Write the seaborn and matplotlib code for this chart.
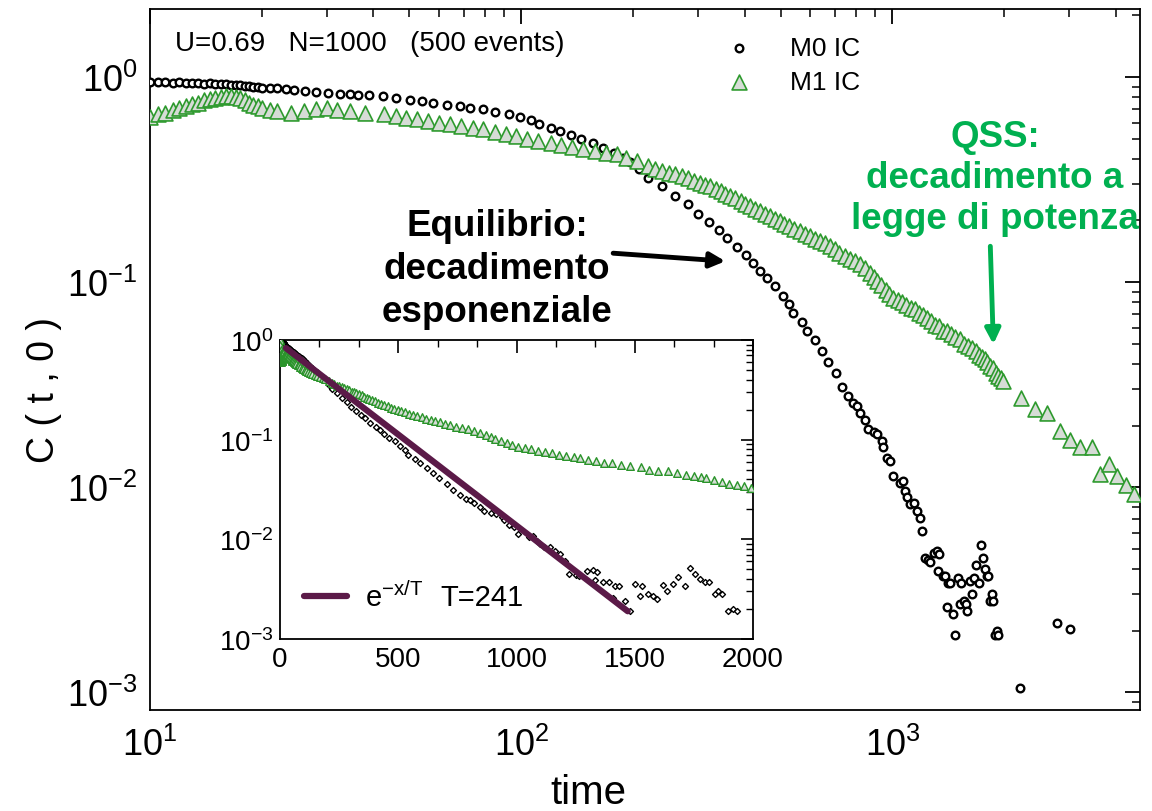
import matplotlib
matplotlib.use("Agg")
import matplotlib.pyplot as plt
import seaborn as sns
import pandas as pd
from matplotlib.ticker import LogLocator, NullFormatter, AutoMinorLocator, FixedLocator

# M0 IC (equilibrium initial condition)
m0_t = [0, 1, 2, 3, 4, 5, 6, 7, 8, 9,
        10.0, 10.5, 11.0, 11.5, 12.0, 12.5, 13.0, 13.5, 14.0, 14.5, 15.0, 15.5, 16.0,
        16.5, 17.0, 17.5, 18.0, 18.5, 19.0, 19.5, 20.0,
        21, 22, 23.2, 24.5, 26.2, 28, 30.2, 32.5, 34.5, 36.4, 39, 42.5, 46, 50.2, 54,
        58, 63, 68.4, 73, 78.9, 85, 93, 99, 106, 112, 120, 127, 136, 145, 156, 166,
        178, 188, 197, 208, 220, 240, 260, 282, 300, 321, 342, 359, 382, 404, 422,
        441, 460, 484, 508, 528, 541, 572, 590, 620, 648, 672, 706, 733, 761, 785,
        805, 820, 846, 862, 890, 911, 940, 946, 969, 988,
        1006, 1051, 1071, 1085, 1098, 1118, 1142, 1163, 1184, 1205, 1222, 1250, 1266,
        1298, 1322, 1340, 1330, 1366, 1390, 1416, 1433, 1407, 1459, 1480, 1501, 1522,
        1531, 1556, 1577, 1594, 1619, 1636, 1662, 1683, 1713, 1734, 1755, 1776, 1797,
        1814, 1839, 1852, 1869, 1894, 1915, 1932, 2213, 2784, 3018]
m0_c = [1.0, 0.99, 0.98, 0.98, 0.97, 0.97, 0.96, 0.96, 0.96, 0.95,
        0.95, 0.95, 0.95, 0.94, 0.95, 0.94, 0.94, 0.94, 0.93, 0.94, 0.93, 0.93, 0.93,
        0.92, 0.92, 0.92, 0.91, 0.91, 0.90, 0.90, 0.89,
        0.89, 0.887, 0.875, 0.865, 0.855, 0.845, 0.838, 0.83, 0.826, 0.823, 0.815,
        0.808, 0.79, 0.778, 0.765, 0.750, 0.735, 0.722, 0.71, 0.696, 0.678, 0.658,
        0.64, 0.615, 0.59, 0.562, 0.545, 0.525, 0.50, 0.476, 0.45, 0.425, 0.405,
        0.385, 0.355, 0.322, 0.294, 0.263, 0.240, 0.215, 0.196, 0.179, 0.164, 0.148,
        0.135, 0.124, 0.114, 0.105, 0.096, 0.086, 0.078, 0.071, 0.064, 0.058, 0.052,
        0.046, 0.041, 0.036, 0.031, 0.028, 0.0257, 0.0248, 0.023, 0.0212, 0.0192,
        0.0185, 0.0181, 0.0168, 0.0158, 0.0139, 0.0134,
        0.0113, 0.0105, 0.0107, 0.0096, 0.0090, 0.0083, 0.0084, 0.0077, 0.0071,
        0.0061, 0.0045, 0.0044, 0.0043, 0.0048, 0.0049, 0.0047, 0.0039, 0.0037,
        0.0037, 0.0034, 0.0034, 0.0026, 0.0024, 0.0019, 0.0036, 0.0027, 0.0034,
        0.0028, 0.0027, 0.0025, 0.0035, 0.0030, 0.0036, 0.0042, 0.0034, 0.0052,
        0.0045, 0.0040, 0.0037, 0.0037, 0.0028, 0.0030, 0.0028, 0.0019, 0.0020,
        0.0019, 0.00105, 0.00217, 0.00203]

# M1 IC (QSS initial condition)
m1_t = [0, 1, 2, 3, 4, 5, 6, 7, 8, 9,
        10.0, 10.5, 11.0, 11.5, 12.0, 12.5, 13.0, 13.5, 14.0, 14.5, 15.0, 15.5, 16.0,
        16.5, 17.0, 17.5, 18.0, 18.5, 19.0, 19.5, 20.0,
        21, 22, 24, 26, 28, 30, 32, 34.6, 38, 42.6, 46, 49, 52.4, 56, 60, 64.4, 69,
        74, 79, 85, 91, 97, 104, 111, 120, 128, 137, 147, 158, 169, 181, 192, 205,
        220, 230, 240, 250, 260, 271, 282, 292, 303, 313, 323, 334, 345, 355, 366,
        378, 390, 402, 414, 427, 440, 455, 469, 483, 497, 512, 528, 545, 563, 581,
        600, 618, 637, 657, 678, 699, 720, 745, 770, 795, 820, 845, 870, 890, 910,
        935, 960, 980,
        1006, 1035, 1060, 1090, 1120, 1150, 1180, 1210, 1243, 1270, 1300, 1335, 1370,
        1405, 1440, 1480, 1526, 1560, 1600, 1640, 1680, 1715, 1750, 1780, 1803, 1835,
        1870, 1900, 1930, 1960, 1992,
        2227, 2429, 2618, 2837, 3018, 3212, 3460, 3636, 3846, 4042, 4250, 4467]
m1_c = [1.0, 0.9, 0.8, 0.72, 0.66, 0.62, 0.60, 0.61, 0.62, 0.63,
        0.64, 0.66, 0.67, 0.69, 0.71, 0.72, 0.74, 0.75, 0.77, 0.78, 0.79, 0.80, 0.81,
        0.81, 0.80, 0.79, 0.77, 0.75, 0.73, 0.72, 0.71,
        0.69, 0.68, 0.67, 0.68, 0.70, 0.71, 0.69, 0.683, 0.67, 0.658, 0.645, 0.632,
        0.622, 0.61, 0.60, 0.588, 0.578, 0.567, 0.556, 0.54, 0.528, 0.515, 0.50,
        0.49, 0.478, 0.466, 0.455, 0.444, 0.435, 0.428, 0.42, 0.405, 0.39,
        0.368, 0.358, 0.348, 0.342, 0.336, 0.330, 0.322, 0.312, 0.304, 0.299, 0.294,
        0.286, 0.278, 0.270, 0.263, 0.256, 0.249, 0.242, 0.235, 0.228, 0.222, 0.216,
        0.210, 0.204, 0.198, 0.193, 0.188, 0.182, 0.177, 0.172, 0.168, 0.163, 0.159,
        0.155, 0.150, 0.145, 0.139, 0.134, 0.130, 0.127, 0.123, 0.117, 0.111, 0.106,
        0.101, 0.097, 0.092, 0.088,
        0.084, 0.082, 0.080, 0.077, 0.075, 0.074, 0.071, 0.069, 0.067, 0.065, 0.062,
        0.061, 0.058, 0.058, 0.056, 0.054, 0.053, 0.050, 0.049, 0.048, 0.046, 0.044,
        0.043, 0.042, 0.041, 0.039, 0.038, 0.036, 0.035, 0.034, 0.033,
        0.0272, 0.024, 0.023, 0.0188, 0.017, 0.0158, 0.0158, 0.0116, 0.013, 0.0113,
        0.0103, 0.0093]

# exponential fit shown in the inset (T=241), end points
fit_t = [25, 1470]
fit_c = [0.83, 0.0019]

x_ticks_main = [10, 100, 1000]
y_ticks_main = [1e-3, 1e-2, 1e-1, 1]
x_ticks_inset = [0, 500, 1000, 1500, 2000]

m0 = pd.DataFrame({"t": m0_t, "C": m0_c})
m1 = pd.DataFrame({"t": m1_t, "C": m1_c})

sns.set_style("white")
plt.rcParams['font.family'] = ['Liberation Sans', 'DejaVu Sans']
plt.rcParams['mathtext.fontset'] = 'custom'
plt.rcParams['mathtext.rm'] = 'Liberation Sans'
plt.rcParams['mathtext.it'] = 'Liberation Sans:italic'
for key in ['text.color', 'axes.labelcolor', 'xtick.color', 'ytick.color', 'axes.edgecolor']:
    plt.rcParams[key] = 'black'

GREEN_TXT = "#00b050"
GREEN_EDGE = "#2e9a2e"
GREEN_FILL = "#d6dcd6"

fig = plt.figure(figsize=(11.52, 8.12), dpi=100)
ax = fig.add_axes([0.1302, 0.1244, 0.8594, 0.8633])

sns.scatterplot(data=m0[m0.t >= 10], x="t", y="C", ax=ax, marker="o", s=30,
                facecolor="white", edgecolor="black", linewidth=1.7, label="M0 IC", zorder=3)
sns.scatterplot(data=m1[m1.t >= 10], x="t", y="C", ax=ax, marker="^", s=115,
                facecolor=GREEN_FILL, edgecolor=GREEN_EDGE, linewidth=1.2, label="M1 IC", zorder=4)

ax.set_xscale("log")
ax.set_yscale("log")
ax.set_xlim(10, 4650)
ax.set_ylim(8.2e-4, 2.15)
ax.xaxis.set_major_locator(FixedLocator(x_ticks_main))
ax.yaxis.set_major_locator(FixedLocator(y_ticks_main))
ax.xaxis.set_minor_locator(LogLocator(subs=range(2, 10), numticks=20))
ax.yaxis.set_minor_locator(LogLocator(subs=range(2, 10), numticks=20))
ax.xaxis.set_minor_formatter(NullFormatter())
ax.yaxis.set_minor_formatter(NullFormatter())
ax.tick_params(which="both", direction="in", top=True, right=True, colors="black")
ax.tick_params(which="major", length=11, width=1.3, labelsize=26)
ax.tick_params(axis="y", which="major", pad=9)
ax.tick_params(axis="x", which="major", pad=12)
ax.tick_params(which="minor", length=6, width=1.1)
for sp in ax.spines.values():
    sp.set_linewidth(1.3)
    sp.set_color("black")

ax.set_xlabel("time", fontsize=29)
ax.xaxis.set_label_coords(0.443, -0.09)
ax.set_ylabel("C ( t , 0 )", fontsize=27)
ax.yaxis.set_label_coords(-0.089, 0.458)

ax.text(0.025, 0.952, "U=0.69   N=1000   (500 events)", transform=ax.transAxes,
        fontsize=20, va="center", ha="left")
leg = ax.legend(loc="upper left", bbox_to_anchor=(0.558, 0.977), frameon=False,
                fontsize=19, handletextpad=0.9, labelspacing=0.4, borderaxespad=0)

# annotations
fig.text(0.4314, 0.6685, "Equilibrio:\ndecadimento\nesponenziale", ha="center", va="center",
         fontsize=26.5, fontweight="bold", color="black", linespacing=1.3)
ax.annotate("", xy=(355, 0.1266), xytext=(177, 0.1385),
            arrowprops=dict(arrowstyle="-|>,head_length=0.9,head_width=0.45", lw=3.5,
                            color="black", shrinkA=0, shrinkB=0))
fig.text(0.8637, 0.78, "QSS:\ndecadimento a\nlegge di potenza", ha="center", va="center",
         fontsize=26.5, fontweight="bold", color=GREEN_TXT, linespacing=1.22)
ax.annotate("", xy=(1872, 0.0498), xytext=(1837, 0.1497),
            arrowprops=dict(arrowstyle="-|>,head_length=0.9,head_width=0.45", lw=3.5,
                            color=GREEN_TXT, shrinkA=0, shrinkB=0))

# inset: same data on linear time
axin = fig.add_axes([0.2431, 0.2118, 0.4106, 0.3682])
axin.set_facecolor("white")
sns.scatterplot(data=m0, x="t", y="C", ax=axin, marker="D", s=9,
                facecolor="white", edgecolor="black", linewidth=1.0, zorder=3)
sns.scatterplot(data=m1, x="t", y="C", ax=axin, marker="^", s=30,
                facecolor=GREEN_FILL, edgecolor="#2a942a", linewidth=1.0, zorder=4)
sns.lineplot(x=fit_t, y=fit_c, ax=axin, color="#5b1a48", lw=4.5, zorder=5,
             label=r"e$^{\mathregular{-x/T}}$")
axin.set_yscale("log")
axin.set_xlim(0, 2000)
axin.set_ylim(1e-3, 1)
axin.xaxis.set_major_locator(FixedLocator(x_ticks_inset))
axin.xaxis.set_minor_locator(AutoMinorLocator(3))
axin.yaxis.set_major_locator(FixedLocator(y_ticks_main))
axin.yaxis.set_minor_locator(LogLocator(subs=range(2, 10), numticks=20))
axin.yaxis.set_minor_formatter(NullFormatter())
axin.tick_params(which="both", direction="in", top=True, right=True, colors="black")
axin.tick_params(which="major", length=9, width=1.2, labelsize=20, pad=5)
axin.tick_params(which="minor", length=5, width=1.0)
axin.set_xlabel("")
axin.set_ylabel("")
for sp in axin.spines.values():
    sp.set_linewidth(1.3)
    sp.set_color("black")
axin.legend(loc="center left", bbox_to_anchor=(0.025, 0.14), frameon=False, fontsize=21,
            handlelength=1.5, handletextpad=0.6, borderaxespad=0)
axin.text(0.338, 0.14, "T=241", transform=axin.transAxes, fontsize=21, va="center")

fig.savefig("out.png", dpi=100, facecolor="white")
